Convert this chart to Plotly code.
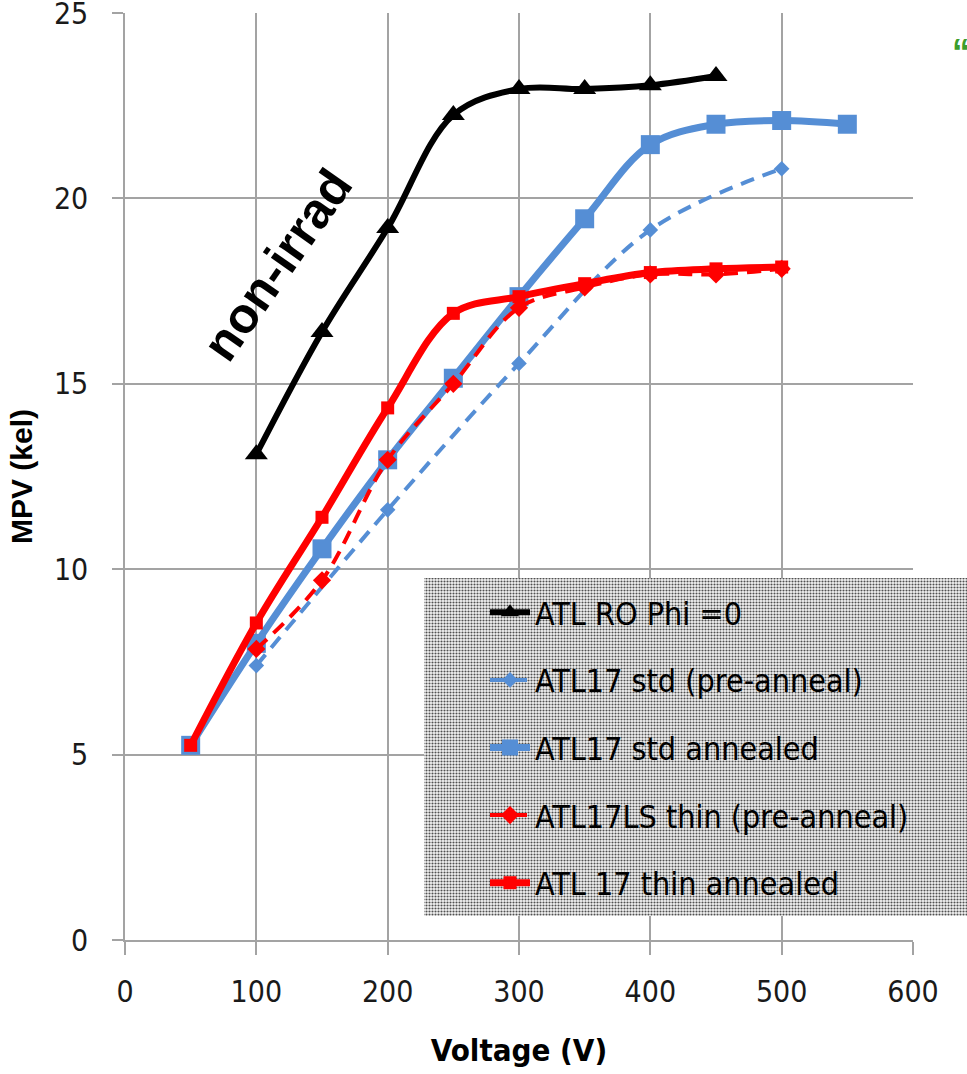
import plotly.graph_objects as go

# ---------------- data ----------------
v_ro = [100, 150, 200, 250, 300, 350, 400, 450]
mpv_ro = [13.1, 16.4, 19.2, 22.25, 22.95, 22.95, 23.05, 23.3]

v_std_pre = [100, 200, 300, 400, 500]
mpv_std_pre = [7.4, 11.6, 15.55, 19.15, 20.8]

v_std_ann = [50, 100, 150, 200, 250, 300, 350, 400, 450, 500, 550]
mpv_std_ann = [5.25, 8.0, 10.55, 12.95, 15.15, 17.35, 19.45, 21.45, 22.0, 22.1, 22.0]

v_thin_pre = [100, 150, 200, 250, 300, 350, 400, 450, 500]
mpv_thin_pre = [7.85, 9.7, 12.95, 15.0, 17.05, 17.6, 17.95, 17.95, 18.1]

v_thin_ann = [50, 100, 150, 200, 250, 300, 350, 400, 450, 500]
mpv_thin_ann = [5.25, 8.55, 11.4, 14.35, 16.9, 17.35, 17.7, 18.0, 18.1, 18.15]

names = ["ATL RO Phi =0", "ATL17 std (pre-anneal)", "ATL17 std annealed",
         "ATL17LS thin (pre-anneal)", "ATL 17 thin annealed"]

x_ticks = [0, 100, 200, 300, 400, 500, 600]
y_ticks = [0, 5, 10, 15, 20, 25]

# ---------------- style ----------------
W, H = 967, 1074
ML, MR, MT, MB = 125, 0, 13, 134
PW, PH = W - ML - MR, H - MT - MB
BLUE = "#558ED5"
RED = "#FF0000"
GRID = "#a3a3a3"
NARROW = "DejaVu Sans Condensed, Liberation Sans Narrow, Arial Narrow, sans-serif"
BOLD = "Liberation Sans, Arial, sans-serif"

fig = go.Figure()

fig.add_trace(go.Scatter(x=v_ro, y=mpv_ro, name=names[0], mode="lines+markers",
                         line=dict(color="black", width=6, shape="spline"),
                         marker=dict(symbol="triangle-up", size=20, color="black"),
                         legendgroup="a"))
fig.add_trace(go.Scatter(x=v_std_pre, y=mpv_std_pre, name=names[1], mode="lines+markers",
                         line=dict(color=BLUE, width=4, dash="14px,9px", shape="spline"),
                         marker=dict(symbol="diamond", size=12, color=BLUE),
                         legendgroup="b"))
fig.add_trace(go.Scatter(x=v_std_ann, y=mpv_std_ann, name=names[2], mode="lines+markers",
                         line=dict(color=BLUE, width=7, shape="spline"),
                         marker=dict(symbol="square", size=19, color=BLUE),
                         legendgroup="c"))
fig.add_trace(go.Scatter(x=v_thin_pre, y=mpv_thin_pre, name=names[3], mode="lines+markers",
                         line=dict(color=RED, width=4, dash="14px,9px", shape="spline"),
                         marker=dict(symbol="diamond", size=14, color=RED),
                         legendgroup="d"))
fig.add_trace(go.Scatter(x=v_thin_ann, y=mpv_thin_ann, name=names[4], mode="lines+markers",
                         line=dict(color=RED, width=7, shape="spline"),
                         marker=dict(symbol="square", size=13, color=RED),
                         legendgroup="e"))

# stippled legend background on a separate full-paper pixel subplot
bx0, bx1 = 424 - ML, W - ML
by0, by1 = (H - MB) - 916, (H - MB) - 578
fig.add_trace(go.Scatter(x=[bx0, bx1, bx1, bx0, bx0], y=[by0, by0, by1, by1, by0],
                         xaxis="x2", yaxis="y2", mode="lines", fill="toself",
                         line=dict(width=0, color="rgba(0,0,0,0)"),
                         fillcolor="#bcbcbc",
                         fillpattern=dict(shape=".", bgcolor="#f5f5f5", fgcolor="#505050",
                                          size=3, solidity=0.38, fillmode="replace"),
                         showlegend=False, hoverinfo="skip"))

fig.update_layout(
    width=W, height=H,
    margin=dict(l=ML, r=MR, t=MT, b=MB, pad=0, autoexpand=False),
    paper_bgcolor="white", plot_bgcolor="rgba(0,0,0,0)",
    showlegend=True,
    legend=dict(x=(485 - ML) / PW, y=((H - MB) - 585) / PH, xanchor="left", yanchor="top",
                bgcolor="rgba(0,0,0,0)", borderwidth=0,
                font=dict(family=NARROW, size=32, color="black"),
                traceorder="grouped", tracegroupgap=23, itemwidth=40),
    xaxis=dict(domain=[0, (913 - ML) / PW], range=[0, 600], tickvals=x_ticks,
               showgrid=True, gridcolor=GRID, gridwidth=1.5,
               showline=True, linecolor=GRID, linewidth=2,
               ticks="outside", ticklen=13, tickcolor=GRID, tickwidth=1.5,
               tickfont=dict(family=NARROW, size=30, color="#1a1a1a"),
               ticklabelstandoff=11, zeroline=False, automargin=False,
               ticklabeloverflow="allow",
               title=dict(text="<b>Voltage (V)</b>", standoff=31,
                          font=dict(family=NARROW, size=31, color="black"))),
    yaxis=dict(range=[0, 25], tickvals=y_ticks,
               showgrid=True, gridcolor=GRID, gridwidth=1.5,
               showline=True, linecolor=GRID, linewidth=1.5,
               ticks="outside", ticklen=11, tickcolor=GRID, tickwidth=1.5,
               tickfont=dict(family=NARROW, size=30, color="#1a1a1a"),
               ticklabelstandoff=18, zeroline=False, automargin=False,
               ticklabeloverflow="allow",
               title=dict(text="<b>MPV (kel)</b>", standoff=12,
                          font=dict(family=BOLD, size=30, color="black"))),
    xaxis2=dict(domain=[0, 1], range=[0, PW], anchor="y2", visible=False, fixedrange=True),
    yaxis2=dict(domain=[0, 1], range=[0, PH], anchor="x2", visible=False, fixedrange=True),
    annotations=[
        dict(text="<b>non-irrad</b>", x=116, y=18.2, xref="x", yref="y", showarrow=False,
             textangle=-55, font=dict(family=BOLD, size=50, color="black")),
        dict(text="<b>\u201c</b>", x=(950 - ML) / PW, y=((H - MB) - 52) / PH, xref="paper", yref="paper",
             xanchor="left", yanchor="middle", showarrow=False,
             font=dict(family=BOLD, size=36, color="#3c9d2c")),
        dict(text="<b>g</b>", x=(668 - ML) / PW, y=((H - MB) + 6) / PH, xref="paper", yref="paper",
             xanchor="center", yanchor="bottom", showarrow=False,
             font=dict(family=NARROW, size=37, color="black")),
    ],
)

fig.write_html("out.html")
